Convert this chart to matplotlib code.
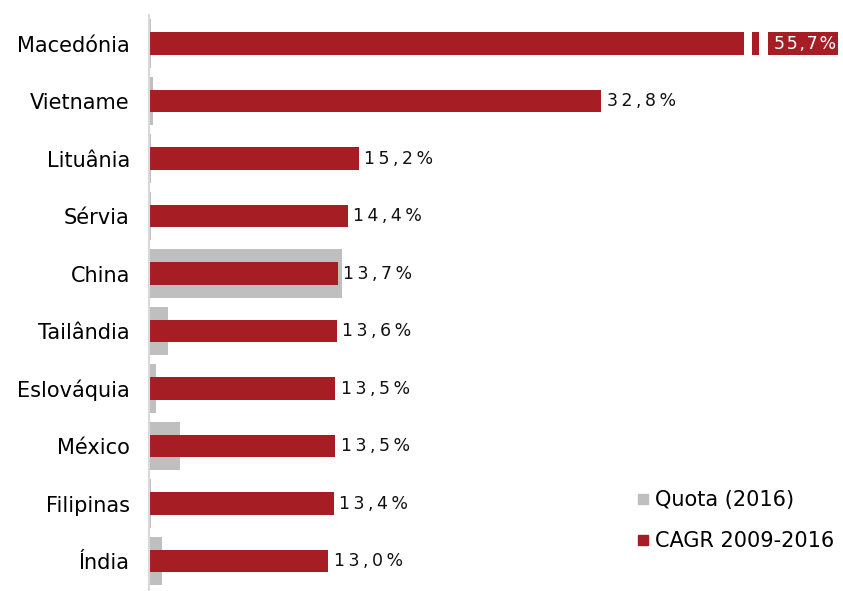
import matplotlib
matplotlib.use("Agg")
import matplotlib.pyplot as plt
from matplotlib.lines import Line2D

# dados: quota de mercado (2016) e crescimento médio anual 2009-2016
paises = ["Macedónia", "Vietname", "Lituânia", "Sérvia", "China",
          "Tailândia", "Eslováquia", "México", "Filipinas", "Índia"]
quota = [0.15, 0.3, 0.1, 0.1, 14.0, 1.4, 0.5, 2.2, 0.1, 0.95]
cagr = [55.7, 32.8, 15.2, 14.4, 13.7, 13.6, 13.5, 13.5, 13.4, 13.0]
rotulos = ["55,7%", "32,8%", "15,2%", "14,4%", "13,7%",
           "13,6%", "13,5%", "13,5%", "13,4%", "13,0%"]

VERMELHO = "#a61e23"
CINZA = "#bfbfbf"
XMAX = 50.0

fig = plt.figure(figsize=(8.43, 5.91), dpi=100)
ax = fig.add_axes([0.177, 0.002, 0.817, 0.973])

y = list(range(len(paises)))
ax.barh(y, quota, height=0.84, color=CINZA, zorder=1)
ax.barh(y, [min(v, XMAX) for v in cagr], height=0.39, color=VERMELHO, zorder=2)

# barra cortada (valor fora da escala)
for x0, x1 in [(43.2, 43.75), (44.25, 44.9)]:
    ax.fill_between([x0, x1], -0.3, 0.3, color="white", zorder=3, linewidth=0)

def espacado(s, sep="\u2009"):
    return sep.join(s)

for i, v in enumerate(cagr):
    if v > XMAX:
        ax.annotate(espacado(rotulos[i], "\u200a"), (XMAX, i), xytext=(-1, 0),
                    textcoords="offset points", ha="right", va="center",
                    fontsize=12.5, color="white", zorder=4)
    else:
        ax.annotate(espacado(rotulos[i]), (v, i), xytext=(4, 0),
                    textcoords="offset points", ha="left", va="center",
                    fontsize=12.5, color="#111111", zorder=4)

ax.set_xlim(0, XMAX)
ax.set_ylim(9.5, -0.5)
ax.set_yticks(y)
ax.set_yticklabels(paises, fontsize=15)
ax.tick_params(axis="y", length=0, pad=14)
ax.set_xticks([])
for s in ["top", "right", "bottom"]:
    ax.spines[s].set_visible(False)
ax.spines["left"].set_color("#d9d9d9")
ax.spines["left"].set_linewidth(1.5)

handles = [Line2D([], [], marker="s", linestyle="", color=CINZA, markersize=6.5),
           Line2D([], [], marker="s", linestyle="", color=VERMELHO, markersize=6.5)]
ax.legend(handles, ["Quota (2016)", "CAGR 2009-2016"], loc="lower right",
          bbox_to_anchor=(1.022, 0.035), frameon=False, fontsize=15,
          handlelength=0.45, handletextpad=0.35, labelspacing=1.0)

fig.savefig("out.png", dpi=100)
